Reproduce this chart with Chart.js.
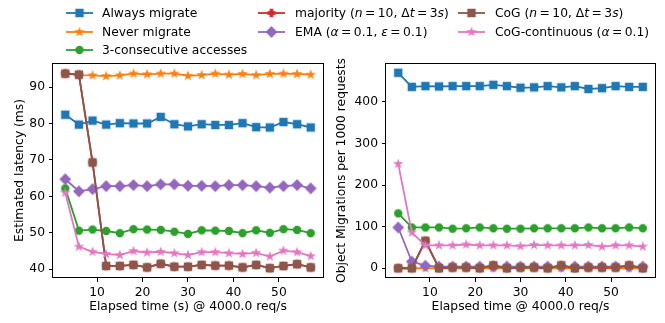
<!DOCTYPE html>
<html><head><meta charset="utf-8">
<script src="https://cdn.jsdelivr.net/npm/chart.js@4"></script>
<style>
html,body{margin:0;padding:0;background:#fff;width:665px;height:323px;overflow:hidden;}
canvas.chart{position:absolute;top:0;}
#c1{left:0;}
#c2{left:330px;}
#legend{position:absolute;left:0;top:0;width:665px;height:62px;font:12.3px "DejaVu Sans";color:#000;}
.item{position:absolute;white-space:nowrap;height:14px;line-height:14px;}
.item canvas{position:absolute;top:0;}
.item span{position:absolute;top:0;}
</style></head>
<body>
<canvas id="c1" class="chart" width="330" height="323"></canvas>
<canvas id="c2" class="chart" width="335" height="323"></canvas>
<div id="legend"></div>
<script>
// ---------- data ----------
const times = [3,6,9,12,15,18,21,24,27,30,33,36,39,42,45,48,51,54,57];
const xTicks = [10,20,30,40,50];
const latTicks = [40,50,60,70,80,90];
const migTicks = [0,100,200,300,400];

// latency (ms)
const alwaysLat   = [82.4,79.7,80.8,79.7,80.1,80.0,80.0,81.8,79.8,79.2,79.8,79.6,79.6,80.1,79.0,78.9,80.4,79.8,78.9];
const neverLat    = [93.7,93.3,93.2,93.0,93.2,93.7,93.5,93.7,93.7,93.1,93.3,93.7,93.4,93.6,93.3,93.6,93.7,93.6,93.4];
const threeLat    = [62.2,50.6,50.9,50.5,49.9,51.0,50.9,50.8,50.3,49.7,50.7,50.6,50.5,49.9,50.7,50.0,51.0,50.8,49.9];
const majorityLat = [93.7,93.4,69.3,40.9,40.9,41.2,40.5,41.5,40.7,40.7,41.2,41.0,41.0,40.5,41.2,40.3,40.9,41.4,40.5];
const emaLat      = [64.7,61.4,62.0,62.8,62.8,63.1,62.8,63.3,63.3,62.9,62.9,62.8,63.1,63.1,62.8,62.4,62.8,63.1,62.2];
const cogLat      = [93.7,93.4,69.3,40.9,40.9,41.2,40.5,41.5,40.7,40.7,41.2,41.0,41.0,40.5,41.2,40.3,40.9,41.4,40.5];
const cogContLat  = [61.0,46.2,44.8,44.2,43.9,45.0,44.6,44.8,44.4,43.9,44.7,44.7,44.4,44.2,44.5,43.5,45.1,44.7,43.6];

// object migrations per 1000 requests
const alwaysMig   = [470,436,438,437,438,438,438,441,438,434,435,438,435,438,431,433,438,436,436];
const neverMig    = [0,0,0,0,0,0,0,0,0,0,0,0,0,0,0,0,0,0,0];
const threeMig    = [132,98,98,98,95,96,98,96,95,95,96,96,96,96,98,96,96,98,96];
const majorityMig = [0,0,66,0,2,2,0,7,0,2,2,0,7,0,2,2,2,7,0];
const emaMig      = [98,16,6,4,4,4,4,4,4,4,4,4,4,4,4,4,4,4,4];
const cogMig      = [0,0,66,0,2,2,0,7,0,2,2,0,7,0,2,2,2,7,0];
const cogContMig  = [251,86,55,55,55,57,55,55,55,53,56,55,55,55,56,52,55,55,52];

const names = ['Always migrate','Never migrate','3-consecutive accesses','majority (n = 10, Δt = 3s)','EMA (α = 0.1, ε = 0.1)','CoG (n = 10, Δt = 3s)','CoG-continuous (α = 0.1)'];
const htmlNames = ['Always migrate','Never migrate','3-consecutive accesses',
  'majority (<i>n</i>&#8201;=&#8201;10, Δ<i>t</i>&#8201;=&#8201;3<i>s</i>)',
  'EMA (<i>α</i>&#8201;=&#8201;0.1, <i>ε</i>&#8201;=&#8201;0.1)',
  'CoG (<i>n</i>&#8201;=&#8201;10, Δ<i>t</i>&#8201;=&#8201;3<i>s</i>)',
  'CoG-continuous (<i>α</i>&#8201;=&#8201;0.1)'];
const colors = ['#1f77b4','#ff7f0e','#2ca02c','#d62728','#9467bd','#8c564b','#e377c2'];
const shapes = ['s','*','o','P','D','s','*'];
const latSeries = [alwaysLat,neverLat,threeLat,majorityLat,emaLat,cogLat,cogContLat];
const migSeries = [alwaysMig,neverMig,threeMig,majorityMig,emaMig,cogMig,cogContMig];

// ---------- markers ----------
function marker(shape,color){
  const c=document.createElement('canvas'); c.width=14; c.height=14;
  const g=c.getContext('2d'); g.translate(7,7);
  g.fillStyle=color; g.strokeStyle=color; g.lineWidth=1.2; g.lineJoin='miter';
  const s=7.2; g.beginPath();
  if(shape==='s'){ g.rect(-s/2,-s/2,s,s); }
  else if(shape==='o'){ g.arc(0,0,s/2,0,Math.PI*2); }
  else if(shape==='D'){ const d=s*Math.SQRT1_2; g.moveTo(0,-d);g.lineTo(d,0);g.lineTo(0,d);g.lineTo(-d,0);g.closePath(); }
  else if(shape==='*'){ const R=s/2, r=R*0.381966; for(let k=0;k<10;k++){const a=-Math.PI/2+k*Math.PI/5; const rr=k%2?r:R; const px=rr*Math.cos(a), py=rr*Math.sin(a); k?g.lineTo(px,py):g.moveTo(px,py);} g.closePath(); }
  else if(shape==='P'){ const u=s/6; const pts=[[-1,-3],[1,-3],[1,-1],[3,-1],[3,1],[1,1],[1,3],[-1,3],[-1,1],[-3,1],[-3,-1],[-1,-1]]; pts.forEach((p,k)=>k?g.lineTo(p[0]*u,p[1]*u):g.moveTo(p[0]*u,p[1]*u)); g.closePath(); }
  g.fill(); g.stroke();
  return c;
}

// ---------- legend ----------
const legendPos = [[66,13],[66,32],[66,50],[258,13],[258,32],[458,13],[458,32]];
const leg=document.getElementById('legend');
names.forEach((n,i)=>{
  const [x,y]=legendPos[i];
  const d=document.createElement('div'); d.className='item'; d.style.left=x+'px'; d.style.top=(y-7)+'px';
  const hc=document.createElement('canvas'); hc.width=28; hc.height=14; hc.style.left='0px';
  const g=hc.getContext('2d'); g.strokeStyle=colors[i]; g.lineWidth=1.8; g.beginPath(); g.moveTo(0,7); g.lineTo(27,7); g.stroke();
  g.drawImage(marker(shapes[i],colors[i]),13.5-7,0);
  d.appendChild(hc);
  const sp=document.createElement('span'); sp.style.left=(x<100?36:37)+'px'; sp.innerHTML=htmlNames[i];
  d.appendChild(sp); leg.appendChild(d);
});

// ---------- charts ----------
const FONT={family:'"DejaVu Sans"',size:12.3};
const boxPlugin={id:'box',afterDraw(c){const a=c.chartArea,g=c.ctx;g.save();g.strokeStyle='#000';g.lineWidth=1;
  g.strokeRect(Math.round(a.left)-0.5,Math.round(a.top)+0.5,Math.round(a.right)-Math.round(a.left)+1,Math.round(a.bottom)-Math.round(a.top)-1);g.restore();}};

function build(id,series,yTicks,yMin,yMax,yTitle,xTitle,yW,padRight,yTitlePad){
  return new Chart(document.getElementById(id),{
    type:'line',
    data:{datasets:series.map((vals,i)=>({
      label:names[i],
      data:times.map((t,j)=>({x:t,y:vals[j]})),
      borderColor:colors[i],backgroundColor:colors[i],borderWidth:1.8,
      pointStyle:marker(shapes[i],colors[i]),pointRadius:5,pointHoverRadius:5,
      tension:0,order:series.length-i
    }))},
    options:{
      animation:false,responsive:false,events:[],devicePixelRatio:1,
      plugins:{legend:{display:false},tooltip:{enabled:false}},
      layout:{padding:{left:0,right:padRight,top:63,bottom:0}},
      scales:{
        x:{type:'linear',min:0.3,max:59.7,
          afterBuildTicks:s=>{s.ticks=xTicks.map(v=>({value:v}));},
          afterFit:s=>{s.height=45;},
          ticks:{font:FONT,color:'#000',padding:3,maxRotation:0,autoSkip:false},
          grid:{drawOnChartArea:false,drawTicks:true,tickLength:4,color:'#000',lineWidth:1},
          border:{display:false},
          title:{display:true,text:xTitle,font:FONT,color:'#000',padding:{top:0,bottom:8.8}}},
        y:{type:'linear',min:yMin,max:yMax,
          afterBuildTicks:s=>{s.ticks=yTicks.map(v=>({value:v}));},
          afterFit:s=>{s.width=yW;},
          ticks:{font:FONT,color:'#000',padding:4,autoSkip:false},
          grid:{drawOnChartArea:false,drawTicks:true,tickLength:4,color:'#000',lineWidth:1},
          border:{display:false},
          title:{display:true,text:yTitle,font:FONT,color:'#000',padding:{top:yTitlePad,bottom:0}}}
      }
    },
    plugins:[boxPlugin]
  });
}
build('c1',latSeries,latTicks,37.6,96.6,'Estimated latency (ms)','Elapsed time (s) @ 4000.0 req/s',53,7,12.6);
build('c2',migSeries,migTicks,-23.5,493.5,'Object Migrations per 1000 requests','Elapsed time @ 4000.0 req/s',56,10,4.6);
</script>
</body></html>
